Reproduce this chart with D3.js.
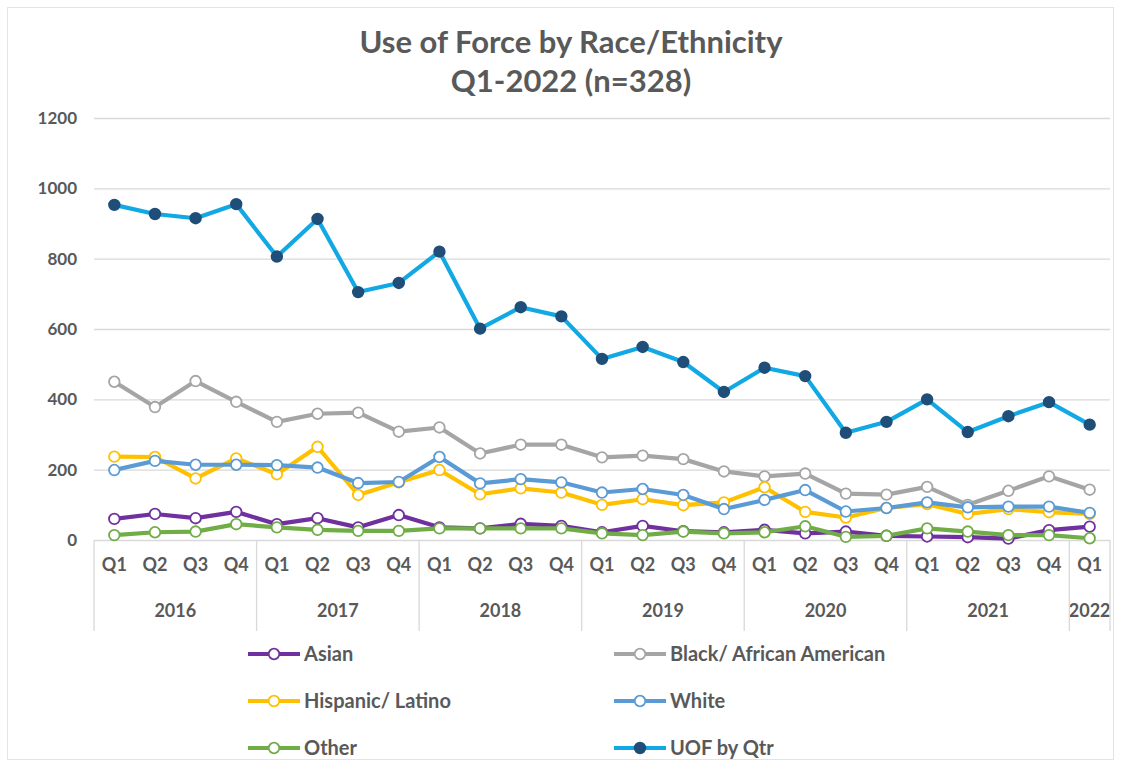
<!DOCTYPE html>
<html>
<head>
<meta charset="utf-8">
<script src="https://cdn.jsdelivr.net/npm/d3@7"></script>
<style>
  html, body { margin: 0; padding: 0; background: #fff; }
  svg { display: block; font-family: Lato, "Open Sans", sans-serif; }
</style>
</head>
<body>
<svg id="chart" width="1121" height="767"></svg>
<script>
// Quarterly category labels and the year groups that span them
const quarters = ["Q1","Q2","Q3","Q4","Q1","Q2","Q3","Q4","Q1","Q2","Q3","Q4",
                  "Q1","Q2","Q3","Q4","Q1","Q2","Q3","Q4","Q1","Q2","Q3","Q4","Q1"];
const years = ["2016","2017","2018","2019","2020","2021","2022"];
const quartersPerYear = [4, 4, 4, 4, 4, 4, 1];
const yTicks = [0, 200, 400, 600, 800, 1000, 1200];

// Use-of-force counts per quarter
const asian    = [60, 74, 62, 80, 45, 62, 36, 71, 36, 33, 46, 40, 22, 40, 25, 22, 29, 19, 24, 12, 10, 8, 4, 28, 38];
const black    = [450, 378, 452, 393, 336, 359, 362, 308, 320, 246, 271, 271, 235, 240, 230, 195, 181, 189, 132, 129, 151, 100, 140, 181, 143];
const hispanic = [237, 236, 175, 232, 187, 265, 128, 164, 199, 130, 147, 135, 100, 116, 99, 107, 150, 80, 64, 91, 102, 74, 88, 79, 74];
const white    = [199, 225, 214, 214, 213, 206, 162, 165, 236, 161, 173, 164, 135, 145, 128, 88, 114, 142, 81, 91, 107, 93, 95, 95, 77];
const other    = [14, 22, 24, 45, 36, 29, 26, 26, 33, 33, 33, 33, 19, 14, 24, 19, 22, 39, 9, 12, 33, 24, 14, 14, 5];
const uofByQtr = [953, 927, 915, 955, 806, 913, 705, 731, 820, 601, 662, 636, 515, 549, 506, 421, 490, 466, 305, 336, 400, 307, 352, 392, 328];

const seriesNames = ["Asian", "Black/ African American", "Hispanic/ Latino", "White", "Other", "UOF by Qtr"];

const series = [
  { name: seriesNames[0], values: asian,    color: "#7030a0", fill: "#fff", mstroke: "#7030a0" },
  { name: seriesNames[1], values: black,    color: "#a5a5a5", fill: "#fff", mstroke: "#a5a5a5" },
  { name: seriesNames[2], values: hispanic, color: "#ffc000", fill: "#fff", mstroke: "#ffc000" },
  { name: seriesNames[3], values: white,    color: "#5b9bd5", fill: "#fff", mstroke: "#5b9bd5" },
  { name: seriesNames[4], values: other,    color: "#70ad47", fill: "#fff", mstroke: "#70ad47" },
  { name: seriesNames[5], values: uofByQtr, color: "#11a8e4", fill: "#1f4e79", mstroke: "#1f4e79" }
];

const svg = d3.select("#chart");
const textColor = "#595959";
const gridColor = "#d9d9d9";

// Chart area frame
svg.append("rect")
  .attr("x", 7.5).attr("y", 7.5).attr("width", 1106).attr("height", 752)
  .attr("fill", "#fff").attr("stroke", "#e4e4e4").attr("stroke-width", 1);

// Title
const title = svg.append("g").attr("fill", textColor).attr("font-weight", 700).attr("text-anchor", "middle");
title.append("text").attr("x", 571).attr("y", 53).attr("font-size", 31).text("Use of Force by Race/Ethnicity");
title.append("text").attr("x", 571).attr("y", 92).attr("font-size", 31).text("Q1-2022 (n=328)");

// Scales
const plotLeft = 94, plotRight = 1110;
const x = d3.scaleBand().domain(d3.range(quarters.length)).range([plotLeft, plotRight]).padding(0);
const cx = i => x(i) + x.bandwidth() / 2;
const y = d3.scaleLinear().domain([0, 1200]).range([540, 118]);

// Horizontal gridlines and value axis labels
const yAxis = d3.axisLeft(y).tickValues(yTicks).tickFormat(d3.format("d"))
  .tickSize(-(plotRight - plotLeft)).tickPadding(17);
const yg = svg.append("g").attr("transform", `translate(${plotLeft},0)`).call(yAxis);
yg.select(".domain").remove();
yg.selectAll(".tick line").attr("stroke", gridColor).attr("stroke-width", 1.3);
yg.selectAll(".tick text")
  .attr("fill", textColor).attr("font-size", 17).attr("font-weight", 700)
  .attr("font-family", "Lato, sans-serif");

// Quarter labels along the category axis
const xAxis = d3.axisBottom(x).tickFormat(i => quarters[i]).tickSize(0).tickPadding(18);
const xg = svg.append("g").attr("transform", `translate(0,${y(0)})`).call(xAxis);
xg.select(".domain").remove();
xg.selectAll(".tick text")
  .attr("fill", textColor).attr("font-size", 18).attr("font-weight", 700)
  .attr("font-family", "Lato, sans-serif");

// Year group dividers and labels
let start = 0;
const dividers = [0];
years.forEach((yr, k) => {
  const n = quartersPerYear[k];
  const x0 = x(start), x1 = x(start + n - 1) + x.bandwidth();
  svg.append("text")
    .attr("x", (x0 + x1) / 2).attr("y", 617)
    .attr("text-anchor", "middle")
    .attr("fill", textColor).attr("font-size", 18).attr("font-weight", 700)
    .text(yr);
  start += n;
  dividers.push(start);
});
svg.append("g").selectAll("line").data(dividers).join("line")
  .attr("x1", i => i < quarters.length ? x(i) : plotRight)
  .attr("x2", i => i < quarters.length ? x(i) : plotRight)
  .attr("y1", y(0)).attr("y2", 631)
  .attr("stroke", gridColor).attr("stroke-width", 1.3);

// Series lines and markers
const line = d3.line().x((d, i) => cx(i)).y(d => y(d));
series.forEach(s => {
  const g = svg.append("g");
  g.append("path")
    .attr("d", line(s.values))
    .attr("fill", "none")
    .attr("stroke", s.color)
    .attr("stroke-width", 4.2)
    .attr("stroke-linejoin", "round")
    .attr("stroke-linecap", "round");
  g.selectAll("circle").data(s.values).join("circle")
    .attr("cx", (d, i) => cx(i)).attr("cy", d => y(d))
    .attr("r", 5.3)
    .attr("fill", s.fill)
    .attr("stroke", s.mstroke)
    .attr("stroke-width", 1.8);
});

// Legend in two columns
const legendCols = [248, 614];
const legendRows = [654, 701, 748];
const legend = svg.append("g");
series.forEach((s, k) => {
  const lx = legendCols[k % 2], ly = legendRows[Math.floor(k / 2)];
  const item = legend.append("g").attr("transform", `translate(${lx},${ly})`);
  item.append("line").attr("x1", 0).attr("x2", 52).attr("y1", 0).attr("y2", 0)
    .attr("stroke", s.color).attr("stroke-width", 4.2);
  item.append("circle").attr("cx", 26).attr("cy", 0).attr("r", 5.3)
    .attr("fill", s.fill).attr("stroke", s.mstroke).attr("stroke-width", 1.8);
  item.append("text").attr("x", 56).attr("y", 0).attr("dy", "0.35em")
    .attr("fill", textColor).attr("font-size", 20).attr("font-weight", 700)
    .text(s.name);
});
</script>
</body>
</html>
